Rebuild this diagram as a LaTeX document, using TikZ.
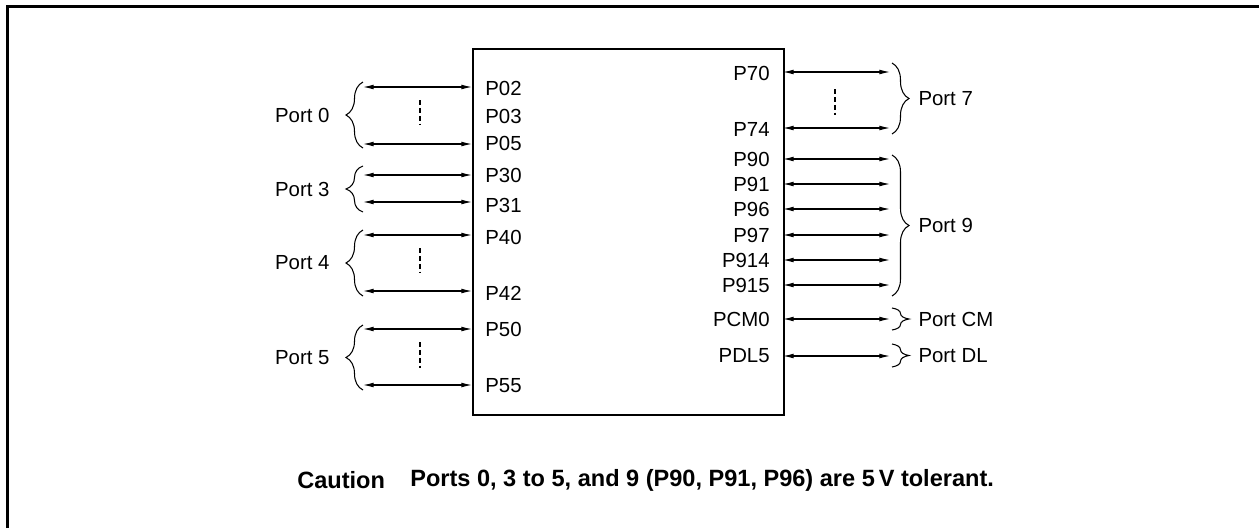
\documentclass[tikz,border=0pt]{standalone}
\usepackage{fontspec}
\setmainfont{Liberation Sans}
\usetikzlibrary{arrows.meta,positioning,decorations.pathreplacing}
\begin{document}
\begin{tikzpicture}[x=0.02cm,y=-0.02cm,
  io/.style={line width=0.6pt,{Latex[length=6pt,width=2.7pt]}-{Latex[length=6pt,width=2.7pt]}},
  pinlbl/.style={inner sep=0pt,font=\fontsize{11.6}{14}\selectfont},
  portbrace/.style={decorate,decoration={brace,amplitude=0.34cm},line width=0.6pt},
  skip/.style={line width=0.6pt,dash pattern=on 2.8pt off 1.7pt},
  note/.style={anchor=west,inner sep=0pt,font=\bfseries\fontsize{13.4}{16}\selectfont}]
  \useasboundingbox (0,0) rectangle (1259,528);
  % frame (only top and left edges show)
  \draw[line width=1.7pt] (7.5,528) -- (7.5,6.5) -- (1259,6.5);
  % the chip
  \node[draw,line width=1.13pt,anchor=north west,inner sep=0pt,
        minimum width=6.22cm,minimum height=7.32cm] (chip) at (472,48) {};
  % left side pins
  \foreach \pin/\y in {P02/87,P05/144,P30/175,P31/202,P40/235,P42/291,P50/329,P55/385}{
    \coordinate (in-\pin) at (472,\y);
    \coordinate (out-\pin) at (363,\y);
    \draw[io] (out-\pin) -- (in-\pin);
  }
  \foreach \pin/\y in {P02/88,P03/116,P05/143,P30/175,P31/205,P40/237,P42/293,P50/329,P55/386}
    \node[pinlbl,anchor=west] (lbl-\pin) at (485,\y) {\pin};
  % right side pins
  \foreach \pin/\y in {P70/72,P74/128,P90/159,P91/184,P96/209,P97/235,P914/260,P915/285,PCM0/319,PDL5/356}{
    \coordinate (in-\pin) at (783,\y);
    \coordinate (out-\pin) at (890,\y);
    \draw[io] (in-\pin) -- (out-\pin);
  }
  \foreach \pin/\y in {P70/73,P74/129,P90/159,P91/184,P96/209,P97/235,P914/260,P915/285,PCM0/319,PDL5/356}
    \node[pinlbl,anchor=east] (lbl-\pin) at (770,\y) {\pin};
  % pins left out
  \draw[skip] (420,100) -- (420,125);
  \draw[skip] (420,248) -- (420,273);
  \draw[skip] (420,342) -- (420,368);
  \draw[skip] (835,89) -- (835,115);
  % port braces, left
  \draw[portbrace] (363,148) -- (363,82) node[pinlbl,midway,left=0.66cm] (port0) {Port 0};
  \draw[portbrace] (363,212) -- (363,166) node[pinlbl,midway,left=0.66cm] (port3) {Port 3};
  \draw[portbrace] (363,296) -- (363,230) node[pinlbl,midway,left=0.66cm] (port4) {Port 4};
  \draw[portbrace] (363,390) -- (363,325) node[pinlbl,midway,left=0.66cm] (port5) {Port 5};
  % port braces, right
  \draw[portbrace] (892,63) -- (892,134) node[pinlbl,midway,right=0.52cm] (port7) {Port 7};
  \draw[portbrace] (892,155) -- (892,296) node[pinlbl,midway,right=0.52cm] (port9) {Port 9};
  \draw[portbrace] (892,308) -- (892,330) node[pinlbl,midway,right=0.52cm] (portcm) {Port CM};
  \draw[portbrace] (892,344) -- (892,367) node[pinlbl,midway,right=0.52cm] (portdl) {Port DL};
  % caution line
  \node[note] (caution) at (297,480) {Caution};
  \node[note] (tolerant) at (410,480) {Ports 0, 3 to 5, and 9 (P90, P91, P96) are 5\,V tolerant.};
\end{tikzpicture}
\end{document}
